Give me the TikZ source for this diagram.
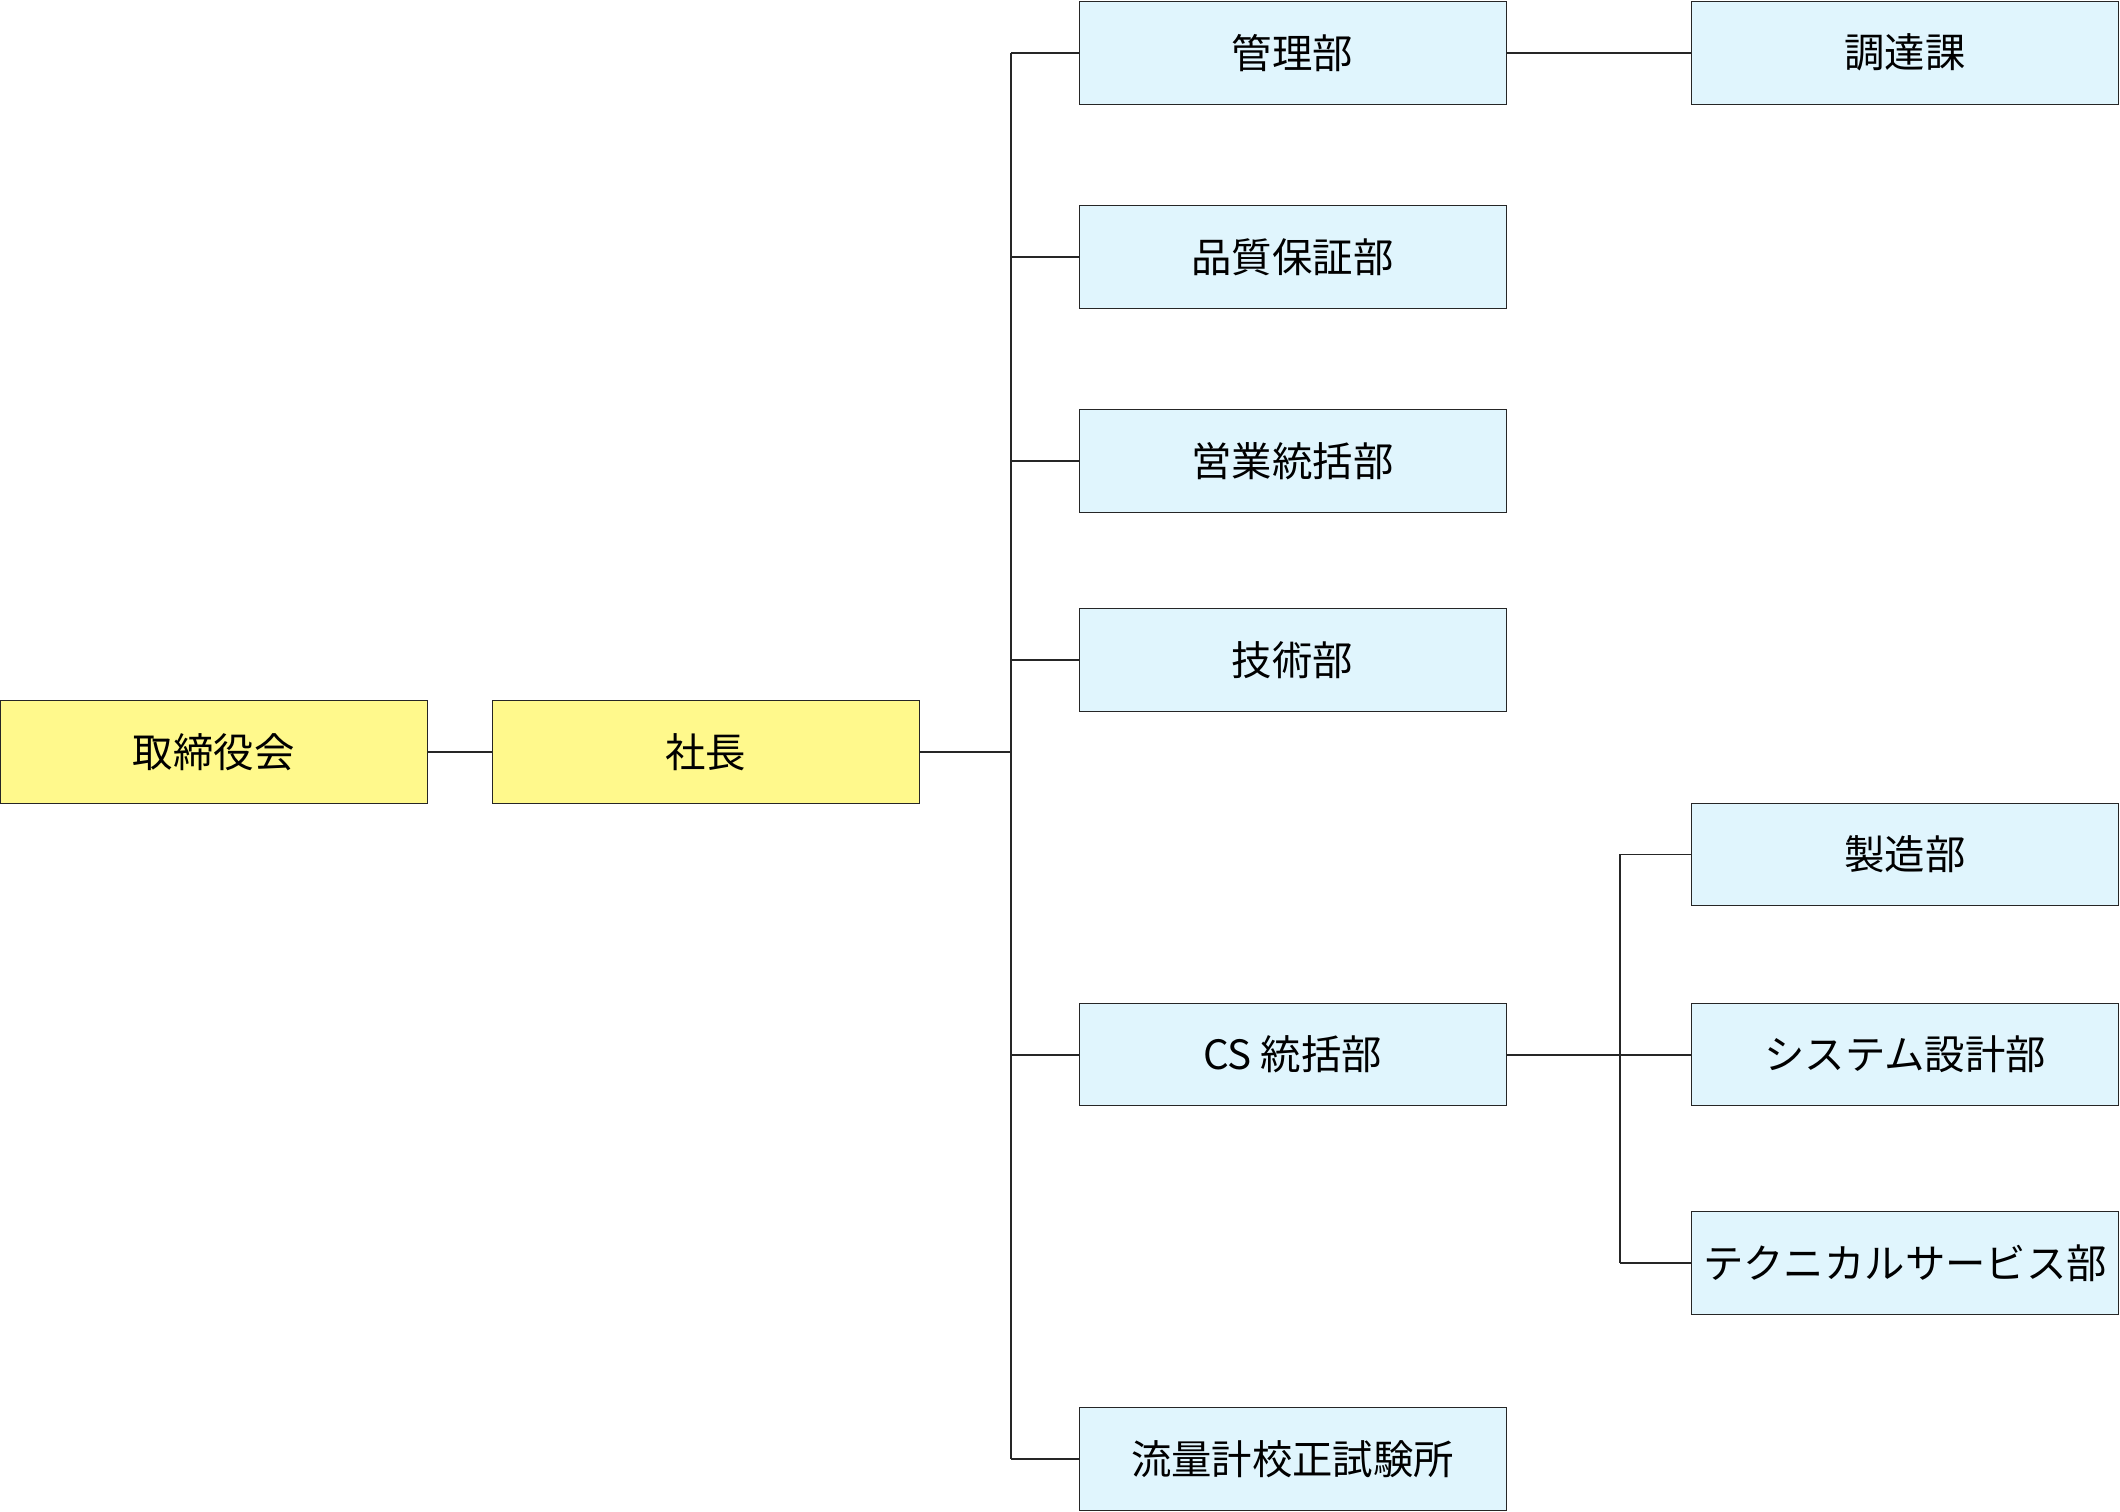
\documentclass[tikz,border=0pt]{standalone}
\usepackage{fontspec}
\setmainfont{Noto Sans CJK JP}
\usetikzlibrary{positioning}
\tikzstyle{top} = [rectangle, minimum width=6.32cm, minimum height=1.52cm, text centered, draw=black!85, fill=yellow!45!white, font=\fontsize{17}{20}\selectfont]
\tikzstyle{dept} = [rectangle, minimum width=6.32cm, minimum height=1.52cm, text centered, draw=black!85, fill=cyan!12!white, font=\fontsize{17}{20}\selectfont]
\tikzstyle{line} = [draw=black!85, thick]

\begin{document}
\begin{tikzpicture}[x=0.02cm, y=-0.02cm]
        \useasboundingbox (0,0) rectangle (1568,1118);

        % Nodes
        \node (board) [top] at (158,556) {取締役会};
        \node (president) [top] at (522,556) {社長};
        \node (kanri) [dept] at (956,39) {管理部};
        \node (hinshitsu) [dept] at (956,190) {品質保証部};
        \node (eigyo) [dept] at (956,341) {営業統括部};
        \node (gijutsu) [dept] at (956,488) {技術部};
        \node (cs) [dept] at (956,780) {CS 統括部};
        \node (ryuryo) [dept] at (956,1079) {流量計校正試験所};
        \node (chotatsu) [dept] at (1409,39) {調達課};
        \node (seizo) [dept] at (1409,632) {製造部};
        \node (system) [dept] at (1409,780) {システム設計部};
        \node (tech) [dept] at (1409,934) {テクニカルサービス部};
        \coordinate (bus) at (748,556);
        \coordinate (csbus) at (1198,780);

        % Lines
        \draw [line] (board) -- (president);
        \draw [line] (president.east) -- (bus);
        \draw [line] (bus |- kanri.west) -- (bus |- ryuryo.west);
        \foreach \n in {kanri, hinshitsu, eigyo, gijutsu, cs, ryuryo}
            \draw [line] (bus |- \n.west) -- (\n.west);
        \draw [line] (kanri) -- (chotatsu);
        \draw [line] (cs) -- (system);
        \draw [line] (csbus |- seizo.west) -- (csbus |- tech.west);
        \draw [line] (csbus |- seizo.west) -- (seizo.west);
        \draw [line] (csbus |- tech.west) -- (tech.west);

    \end{tikzpicture}
\end{document}
